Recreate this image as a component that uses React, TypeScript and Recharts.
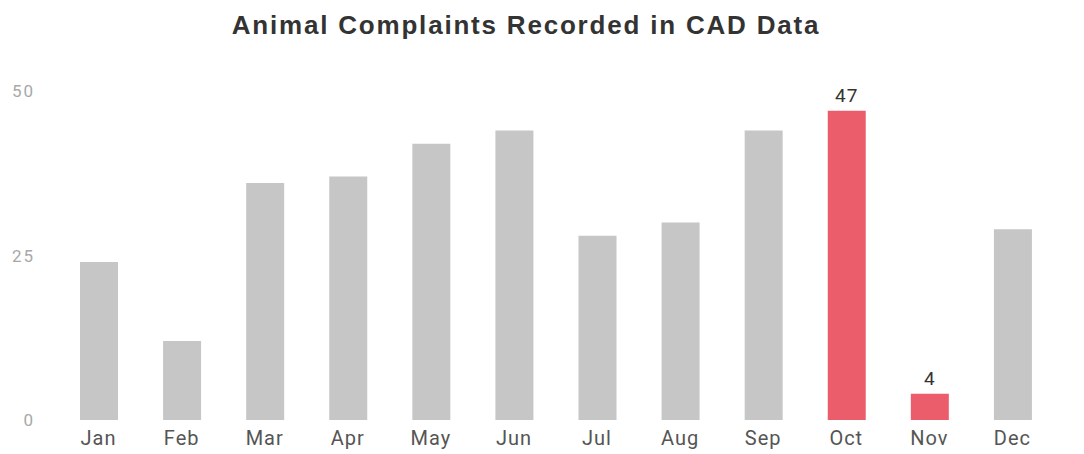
import React from 'react';
import { BarChart, Bar, XAxis, YAxis, Cell, LabelList } from 'recharts';

const months = ['Jan', 'Feb', 'Mar', 'Apr', 'May', 'Jun', 'Jul', 'Aug', 'Sep', 'Oct', 'Nov', 'Dec'];
const complaints = [24, 12, 36, 37, 42, 44, 28, 30, 44, 47, 4, 29];
const highlighted = ['Oct', 'Nov'];
const yTicks = [0, 25, 50];

const data = months.map((m, i) => ({ month: m, value: complaints[i] }));

const GRAY = '#c6c6c6';
const RED = '#ec5d6b';

const renderLabel = (props: any) => {
  const { x, y, width, value, index } = props;
  if (!highlighted.includes(months[index])) return null;
  return (
    <text
      x={x + width / 2}
      y={y - 9}
      textAnchor="middle"
      fill="#333"
      fontSize={19}
      letterSpacing={1}
      fontFamily="Roboto, sans-serif"
    >
      {value}
    </text>
  );
};

export default function App() {
  return (
    <div style={{ position: 'absolute', left: 0, top: 0, width: 1084, height: 454, background: '#fff' }}>
      <div
        style={{
          position: 'absolute',
          left: 0,
          top: 10,
          width: 1052,
          textAlign: 'center',
          fontFamily: '"Liberation Sans", Arial, sans-serif',
          fontWeight: 'bold',
          fontSize: 26,
          letterSpacing: 1.8,
          color: '#333',
        }}
      >
        Animal Complaints Recorded in CAD Data
      </div>
      <BarChart
        width={1084}
        height={454}
        data={data}
        margin={{ top: 91, right: 30, bottom: 0, left: 0 }}
      >
        <XAxis
          dataKey="month"
          axisLine={false}
          tickLine={false}
          tickSize={0}
          tickMargin={11}
          height={34}
          interval={0}
          tick={{ fill: '#555', fontSize: 20, letterSpacing: 1, fontFamily: 'Roboto, sans-serif' }}
        />
        <YAxis
          domain={[0, 50]}
          ticks={yTicks}
          axisLine={false}
          tickLine={false}
          tickSize={0}
          tickMargin={22}
          width={57}
          tick={{ fill: '#a8a8a8', fontSize: 17, letterSpacing: 2, fontFamily: 'Roboto, sans-serif' }}
        />
        <Bar dataKey="value" barSize={38} isAnimationActive={false}>
          {data.map((d) => (
            <Cell key={d.month} fill={highlighted.includes(d.month) ? RED : GRAY} />
          ))}
          <LabelList dataKey="value" content={renderLabel} />
        </Bar>
      </BarChart>
    </div>
  );
}
